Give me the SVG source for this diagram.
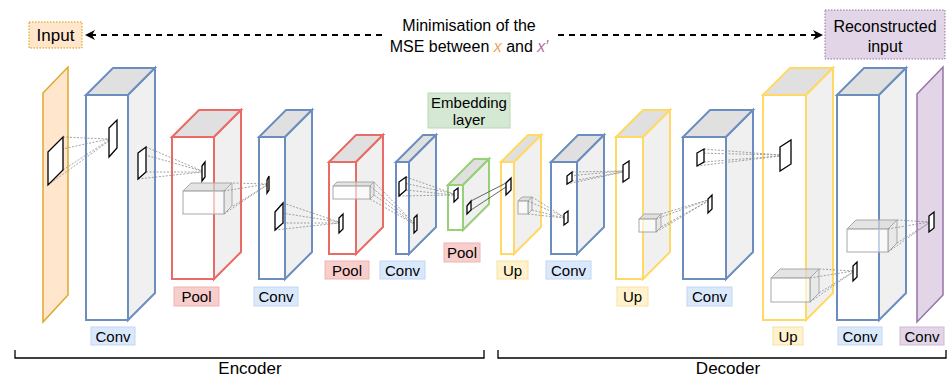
<svg xmlns="http://www.w3.org/2000/svg" width="950" height="377" viewBox="0 0 950 377">
<style>
text{font-family:"Liberation Sans",Arial,sans-serif;fill:#000}
.lbl{font-size:15px;text-anchor:middle}
.big{font-size:16px;text-anchor:middle}
.top{fill:#e0e0e0}
.side{fill:#f0f0f0}
.front{fill:#ffffff}
.blue{stroke:#6c8ebf;stroke-width:2;stroke-linejoin:miter}
.red{stroke:#ea6b66;stroke-width:2}
.green{stroke:#97d077;stroke-width:2}
.yellow{stroke:#ffd966;stroke-width:2}
.gb{stroke:#a8a8a8;stroke-width:1}
.gtop{fill:#d8d8d8;fill-opacity:0.7}
.gside{fill:#e4e4e4;fill-opacity:0.7}
.gfront{fill:#ffffff;fill-opacity:0.6}
.k{fill:#fff;stroke:#000;stroke-width:1.3}
.dot{stroke:#8a8a8a;stroke-width:0.8;stroke-dasharray:2 1.5;fill:none}
.solid{stroke:#555;stroke-width:0.9;fill:none}
.bc{fill:#dae8fc;stroke:#c3d6f0;stroke-width:1}
.bp{fill:#f8cecc;stroke:#f0b4b2;stroke-width:1}
.bu{fill:#fff2cc;stroke:#f5e1a8;stroke-width:1}
.bv{fill:#e1d5e7;stroke:#cdbad8;stroke-width:1}
.bg{fill:#d5e8d4;stroke:#b9d8b6;stroke-width:1}
.arrow{stroke:#000;stroke-width:2;stroke-dasharray:6 5;fill:none}
.brk{stroke:#000;stroke-width:1.3;fill:none}
</style>
<defs>
<marker id="ah" viewBox="0 0 10 10" refX="9" refY="5" markerWidth="10" markerHeight="10" markerUnits="userSpaceOnUse" orient="auto-start-reverse">
<path d="M0,0 L10,5 L0,10 L3,5 Z" fill="#000"/>
</marker>
</defs>

<!-- top labels -->
<g id="input-label">
<rect x="29" y="22" width="53" height="26" fill="#ffe6cc" stroke="#d79b00" stroke-width="1" stroke-dasharray="1.5 1.5"/>
<text class="big" x="55.5" y="41" style="font-size:17px">Input</text>
</g>
<g id="recon-label">
<rect x="825" y="10" width="120" height="49" fill="#e1d5e7" stroke="#9673a6" stroke-width="1" stroke-dasharray="1.5 1.5"/>
<text class="big" x="885" y="32">Reconstructed</text>
<text class="big" x="885" y="52">input</text>
</g>
<g id="mse-label">
<text class="big" x="469" y="31">Minimisation of the</text>
<text class="big" x="469" y="52">MSE between <tspan style="font-style:italic;fill:#f5a05a">x</tspan> and <tspan style="font-style:italic;fill:#b5739d">x′</tspan></text>
</g>

<!-- input plane -->
<g id="input-plane">
<polygon points="43,93 68,67 68,295 43,322" fill="#ffe6cc" stroke="#e0a82e" stroke-width="1.5"/>
</g>

<!-- encoder cuboids -->
<g id="conv1" class="blue">
<polygon class="top" points="86,95 113,68 155,68 128,95"/>
<polygon class="side" points="128,95 155,68 155,293 128,320"/>
<rect class="front" x="86" y="95" width="42" height="225"/>
</g>
<g id="pool1" class="red">
<polygon class="top" points="172,137 199,110 241,110 214,137"/>
<polygon class="side" points="214,137 241,110 241,252 214,279"/>
<rect class="front" x="172" y="137" width="42" height="142"/>
</g>
<g id="conv2" class="blue">
<polygon class="top" points="259,137 286,110 312,110 285,137"/>
<polygon class="side" points="285,137 312,110 312,252 285,279"/>
<rect class="front" x="259" y="137" width="26" height="142"/>
</g>
<g id="pool2" class="red">
<polygon class="top" points="329,162 356,135 383,135 356,162"/>
<polygon class="side" points="356,162 383,135 383,227 356,254"/>
<rect class="front" x="329" y="162" width="27" height="92"/>
</g>
<g id="conv3" class="blue">
<polygon class="top" points="396,162 423,135 436,135 409,162"/>
<polygon class="side" points="409,162 436,135 436,227 409,254"/>
<rect class="front" x="396" y="162" width="13" height="92"/>
</g>
<g id="embedding" class="green">
<polygon class="top" points="448,185 474,159 489,159 463,185"/>
<polygon class="side" points="463,185 489,159 489,204 463,230"/>
<rect class="front" x="448" y="185" width="15" height="45"/>
</g>

<!-- decoder cuboids -->
<g id="up1" class="yellow">
<polygon class="top" points="501,162 528,135 541,135 514,162"/>
<polygon class="side" points="514,162 541,135 541,227 514,254"/>
<rect class="front" x="501" y="162" width="13" height="92"/>
</g>
<g id="conv4" class="blue">
<polygon class="top" points="551,162 578,135 604,135 577,162"/>
<polygon class="side" points="577,162 604,135 604,227 577,254"/>
<rect class="front" x="551" y="162" width="26" height="92"/>
</g>
<g id="up2" class="yellow">
<polygon class="top" points="616,137 643,110 670,110 643,137"/>
<polygon class="side" points="643,137 670,110 670,252 643,279"/>
<rect class="front" x="616" y="137" width="27" height="142"/>
</g>
<g id="conv5" class="blue">
<polygon class="top" points="683,137 710,110 753,110 726,137"/>
<polygon class="side" points="726,137 753,110 753,252 726,279"/>
<rect class="front" x="683" y="137" width="43" height="142"/>
</g>
<g id="up3" class="yellow">
<polygon class="top" points="763,95 790,68 833,68 806,95"/>
<polygon class="side" points="806,95 833,68 833,293 806,320"/>
<rect class="front" x="763" y="95" width="43" height="225"/>
</g>
<g id="conv6" class="blue">
<polygon class="top" points="837,95 864,68 906,68 879,95"/>
<polygon class="side" points="879,95 906,68 906,293 879,320"/>
<rect class="front" x="837" y="95" width="42" height="225"/>
</g>
<g id="output-plane">
<polygon points="917,94 943,67 943,295 917,322" fill="#e1d5e7" stroke="#9673a6" stroke-width="1.5"/>
</g>

<!-- receptive-field boxes -->
<g id="rf-boxes" class="gb">
<g><polygon class="gtop" points="183,191 191,183 232,183 224,191"/><polygon class="gside" points="224,191 232,183 232,206 224,214"/><rect class="gfront" x="183" y="191" width="41" height="23"/></g>
<g><polygon class="gtop" points="333,186 337,182 374,182 370,186"/><polygon class="gside" points="370,186 374,182 374,195 370,199"/><rect class="gfront" x="333" y="186" width="37" height="13"/></g>
<g><polygon class="gtop" points="518,201 522,197 532,197 528,201"/><polygon class="gside" points="528,201 532,197 532,210 528,214"/><rect class="gfront" x="518" y="201" width="10" height="13"/></g>
<g><polygon class="gtop" points="639,219 644,214 661,214 656,219"/><polygon class="gside" points="656,219 661,214 661,227 656,232"/><rect class="gfront" x="639" y="219" width="17" height="13"/></g>
<g><polygon class="gtop" points="771,278 780,269 819,269 810,278"/><polygon class="gside" points="810,278 819,269 819,293 810,302"/><rect class="gfront" x="771" y="278" width="39" height="24"/></g>
<g><polygon class="gtop" points="847,229 856,220 897,220 888,229"/><polygon class="gside" points="888,229 897,220 897,243 888,252"/><rect class="gfront" x="847" y="229" width="41" height="23"/></g>
</g>

<!-- connectors -->
<g id="connectors">
<g class="dot">
<path d="M63,137 L109,139 M48,152 L109,139 M63,170 L109,140 M48,185 L109,141"/>
<path d="M146,147 L202,171 M138,153 L202,171 M146,172 L202,172 M138,179 L202,172"/>
<path d="M224,191 L267,184 M233,183 L267,184 M233,206 L267,185 M224,214 L267,185"/>
<path d="M283,203 L339,222 M275,212 L339,222 M283,223 L339,223 M275,230 L339,223"/>
<path d="M370,186 L414,223 M374,182 L414,223 M374,195 L414,224 M370,199 L414,224"/>
<path d="M406,177 L454,194 M399,182 L454,194 M406,190 L454,195 M399,196 L454,195"/>
<path d="M528,201 L564,217 M532,197 L564,217 M532,210 L564,218 M528,214 L564,218"/>
<path d="M572,172 L623,171 M567,176 L623,171 M572,181 L623,172 M567,184 L623,172"/>
<path d="M656,219 L708,200 M661,214 L708,200 M661,227 L708,201 M656,232 L708,201"/>
<path d="M704,149 L780,155 M697,153 L780,155 M704,162 L780,156 M697,166 L780,156"/>
<path d="M810,278 L853,271 M819,269 L853,271 M819,293 L853,272 M810,302 L853,272"/>
<path d="M888,229 L929,222 M897,220 L929,222 M897,243 L929,223 M888,252 L929,223"/>
</g>
<path class="solid" d="M471,201 L506,183 M471,210 L506,187"/>
<path class="arrow" d="M382,35 L86,35" marker-end="url(#ah)"/>
<path class="arrow" d="M558,35 L822,35" marker-end="url(#ah)"/>
</g>

<!-- kernels -->
<g id="kernels" class="k">
<polygon points="48,152 63,137 63,170 48,185"/>
<polygon points="109,128 117,120 117,148 109,157"/>
<polygon points="138,153 146,147 146,172 138,179"/>
<polygon points="202,166 205,162 205,177 202,181"/>
<polygon points="267,180 269,176 269,190 267,193"/>
<polygon points="275,212 283,203 283,223 275,230"/>
<polygon points="339,218 343,214 343,229 339,233"/>
<polygon points="399,182 406,177 406,190 399,196"/>
<polygon points="414,218 417,215 417,230 414,233"/>
<polygon points="454,191 458,188 458,198 454,202"/>
<polygon points="467,206 471,201 471,210 467,214"/>
<polygon points="506,183 511,178 511,190 506,195"/>
<polygon points="564,214 568,211 568,222 564,225"/>
<polygon points="567,176 572,172 572,181 567,184"/>
<polygon points="623,165 629,161 629,178 623,182"/>
<polygon points="697,153 704,149 704,162 697,166"/>
<polygon points="708,199 712,195 712,209 708,213"/>
<polygon points="780,147 791,140 791,164 780,171"/>
<polygon points="853,266 857,262 857,277 853,281"/>
<polygon points="929,216 934,212 934,228 929,232"/>
</g>

<!-- layer labels -->
<g id="lbl-conv1"><rect class="bc" x="91" y="327" width="44" height="18"/><text class="lbl" x="113" y="341.5">Conv</text></g>
<g id="lbl-pool1"><rect class="bp" x="174" y="287" width="45" height="19"/><text class="lbl" x="196.5" y="302">Pool</text></g>
<g id="lbl-conv2"><rect class="bc" x="254" y="287" width="44" height="19"/><text class="lbl" x="276" y="302">Conv</text></g>
<g id="lbl-pool2"><rect class="bp" x="325" y="261" width="44" height="18"/><text class="lbl" x="347" y="275.5">Pool</text></g>
<g id="lbl-conv3"><rect class="bc" x="380" y="261" width="45" height="18"/><text class="lbl" x="402.5" y="275.5">Conv</text></g>
<g id="lbl-embedding"><rect class="bg" x="428" y="93" width="82" height="35"/><text class="lbl" x="469" y="107.5">Embedding</text><text class="lbl" x="469" y="124.5">layer</text></g>
<g id="lbl-pool3"><rect class="bp" x="444" y="243" width="36" height="19"/><text class="lbl" x="462" y="258">Pool</text></g>
<g id="lbl-up1"><rect class="bu" x="497" y="261" width="31" height="18"/><text class="lbl" x="512.5" y="275.5">Up</text></g>
<g id="lbl-conv4"><rect class="bc" x="546" y="261" width="45" height="18"/><text class="lbl" x="568.5" y="275.5">Conv</text></g>
<g id="lbl-up2"><rect class="bu" x="617" y="287" width="31" height="19"/><text class="lbl" x="632.5" y="302">Up</text></g>
<g id="lbl-conv5"><rect class="bc" x="687" y="287" width="45" height="19"/><text class="lbl" x="709.5" y="302">Conv</text></g>
<g id="lbl-up3"><rect class="bu" x="773" y="327" width="30" height="18"/><text class="lbl" x="788" y="341.5">Up</text></g>
<g id="lbl-conv6"><rect class="bc" x="838" y="327" width="44" height="18"/><text class="lbl" x="860" y="341.5">Conv</text></g>
<g id="lbl-conv7"><rect class="bv" x="900" y="327" width="44" height="18"/><text class="lbl" x="922" y="341.5">Conv</text></g>

<!-- brackets -->
<g id="encoder">
<path class="brk" d="M15,350 L15,358 L484,358 L484,350"/>
<text class="big" x="250" y="374" style="font-size:17px">Encoder</text>
</g>
<g id="decoder">
<path class="brk" d="M498,350 L498,358 L946,358 L946,350"/>
<text class="big" x="728" y="374" style="font-size:17px">Decoder</text>
</g>
</svg>
